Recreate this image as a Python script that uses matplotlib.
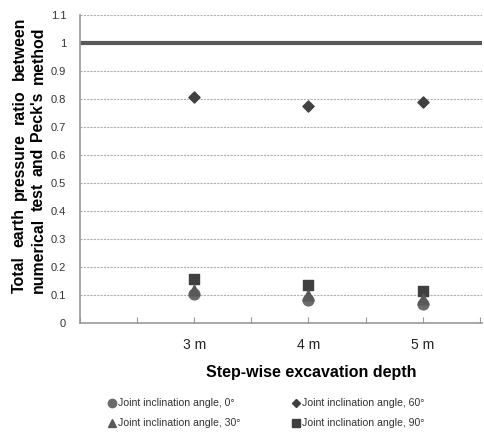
import numpy as np
import matplotlib
matplotlib.use('Agg')
import matplotlib.pyplot as plt

# data
depths = ['3 m', '4 m', '5 m']
angle_0 = [0.104, 0.082, 0.068]
angle_30 = [0.120, 0.100, 0.085]
angle_60 = [0.808, 0.776, 0.790]
angle_90 = [0.157, 0.136, 0.114]
peck_ratio = 1.0

plt.rcParams['font.family'] = ['Liberation Sans', 'DejaVu Sans']

W, H = 485, 432
fig = plt.figure(figsize=(W / 100, H / 100), dpi=100)
ax = fig.add_axes([0.165, 0.252, 0.829, 0.713])

x = np.arange(1, len(depths) + 1)

ax.axhline(peck_ratio, color='#595959', lw=3, zorder=2)
ax.scatter(x, angle_90, marker='s', s=50, color='#404040', zorder=3)
ax.scatter(x, angle_30, marker='^', s=60, color='#595959', zorder=4)
ax.scatter(x, angle_0, marker='o', s=60, color='#6a6a6a', zorder=3)
ax.scatter(x, angle_60, marker='D', s=32, color='#404040', zorder=3)

ax.set_xlim(0, 3.52)
ax.set_ylim(0, 1.1)
ax.set_xticks(np.arange(0, 3.6, 0.5))
ax.set_xticklabels([''] * 8)
for xi, lab in zip(x, depths):
    ax.text(xi, -0.078, lab, ha='center', va='center', fontsize=10, color='#222222')

ax.set_yticks(np.arange(0, 1.11, 0.1))
ax.set_yticklabels(['0', '0.1', '0.2', '0.3', '0.4', '0.5', '0.6', '0.7', '0.8', '0.9', '1', '1.1'])
ax.tick_params(axis='y', length=0, labelsize=8, labelcolor='#333333', pad=10)
ax.tick_params(axis='x', length=4, direction='in', color='#999999')
ax.grid(axis='y', ls=(0, (2, 1)), color='#b0b0b0', lw=0.8, zorder=1)

for side in ['top', 'right']:
    ax.spines[side].set_visible(False)
for side in ['left', 'bottom']:
    ax.spines[side].set_color('#999999')
    ax.spines[side].set_linewidth(1.2)


# justified vertical y label, word by word (pixel coords from top)
def justified_vertical(words, xpix, ybot, ytop, size):
    texts = [fig.text(xpix / W, 0, w, rotation=90, ha='center', va='bottom',
                      fontsize=size, fontweight='bold') for w in words]
    r = fig.canvas.get_renderer()
    lens = [t.get_window_extent(r).height for t in texts]
    gap = ((ybot - ytop) - sum(lens)) / (len(words) - 1)
    pos = ybot
    for t, ln in zip(texts, lens):
        t.set_y((H - pos) / H)
        pos -= ln + gap


justified_vertical(['Total', 'earth', 'pressure', 'ratio', 'between'], 19, 293, 17, 11.4)
justified_vertical(['numerical', 'test', 'and', "Peck's", 'method'], 38, 293, 27, 11.4)

fig.text(311 / W, (H - 373) / H, 'Step-wise excavation depth', ha='center', va='center',
         fontsize=11.5, fontweight='bold')

# legend drawn as text rows
legend_items = [
    ('o', 'Joint inclination angle, 0°', '#6a6a6a', 112, 403),
    ('D', 'Joint inclination angle, 60°', '#404040', 296, 403),
    ('^', 'Joint inclination angle, 30°', '#595959', 112, 423),
    ('s', 'Joint inclination angle, 90°', '#404040', 296, 423),
]
for mk, lab, col, lx, ly in legend_items:
    fig.lines.append(plt.Line2D([lx / W], [(H - ly) / H], marker=mk, color=col,
                                ms=6 if mk != 'D' else 4.5, ls='', transform=fig.transFigure))
    fig.text((lx + 6) / W, (H - ly) / H, lab, ha='left', va='center', fontsize=7.6,
             color='#333333')

plt.savefig('out.png', dpi=100)
